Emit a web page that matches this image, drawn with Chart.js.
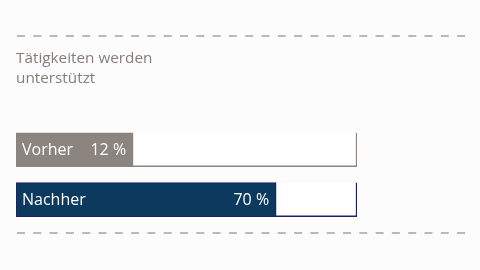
<!DOCTYPE html>
<html>
<head>
<meta charset="utf-8">
<script src="https://cdn.jsdelivr.net/npm/chart.js@4"></script>
<style>
html,body{margin:0;padding:0;background:#fcfcfc;}
#wrap{width:480px;height:270px;position:relative;}
</style>
</head>
<body>
<div id="wrap"><canvas id="c" width="480" height="270"></canvas></div>
<script>
const categories = ['Vorher', 'Nachher'];
const values = [12, 70];
const trackMax = [100, 100];
const titleLines = ['Tätigkeiten werden', 'unterstützt'];
const fillColors = ['#8b847f', '#0c3a5e'];
const frameColors = ['#8b847f', '#1b1f6a'];
const fillMin = -35.5;
const fillMax = 102.8;

const FONT = '"Open Sans", "Noto Sans", sans-serif';

const decoPlugin = {
  id: 'deco',
  beforeDraw(chart) {
    const ctx = chart.ctx;
    ctx.save();
    ctx.strokeStyle = '#bdb8b3';
    ctx.lineWidth = 2;
    ctx.setLineDash([8, 8.3]);
    [36, 233].forEach(y => {
      ctx.beginPath();
      ctx.moveTo(17, y);
      ctx.lineTo(466, y);
      ctx.stroke();
    });
    ctx.restore();
  },
  afterDatasetsDraw(chart) {
    const ctx = chart.ctx;
    const meta = chart.getDatasetMeta(0);
    const area = chart.chartArea;
    ctx.save();
    ctx.fillStyle = '#ffffff';
    ctx.textBaseline = 'middle';
    meta.data.forEach((bar, i) => {
      ctx.font = '500 16px ' + FONT;
      ctx.textAlign = 'left';
      ctx.fillText(categories[i], area.left + 6, bar.y + 1);
      ctx.textAlign = 'right';
      ctx.fillText(values[i] + ' %', bar.x - 7, bar.y + 1);
    });
    ctx.restore();
  }
};

new Chart(document.getElementById('c'), {
  type: 'bar',
  data: {
    labels: categories,
    datasets: [
      {
        data: values,
        base: fillMin,
        xAxisID: 'x',
        backgroundColor: fillColors,
        borderColor: frameColors,
        borderWidth: 1,
        borderSkipped: false,
        grouped: false,
        order: 1,
        barThickness: 34
      },
      {
        data: trackMax,
        xAxisID: 'x2',
        backgroundColor: '#ffffff',
        borderColor: frameColors,
        borderWidth: {top: 0, left: 0, right: 1.5, bottom: 1.5},
        borderSkipped: false,
        grouped: false,
        order: 2,
        barThickness: 34
      }
    ]
  },
  options: {
    indexAxis: 'y',
    responsive: false,
    animation: false,
    layout: {padding: {left: 16, right: 123, top: 49, bottom: 45.5}},
    scales: {
      x: {display: false, min: fillMin, max: fillMax},
      x2: {display: false, axis: 'x', min: 0, max: 100},
      y: {display: false}
    },
    plugins: {
      legend: {display: false},
      tooltip: {enabled: false},
      title: {
        display: true,
        text: titleLines,
        align: 'start',
        color: '#857e79',
        font: {family: FONT, size: 15.3, weight: 'normal', lineHeight: 1.3},
        padding: {top: 0, bottom: 36}
      }
    }
  },
  plugins: [decoPlugin]
});
</script>
</body>
</html>
